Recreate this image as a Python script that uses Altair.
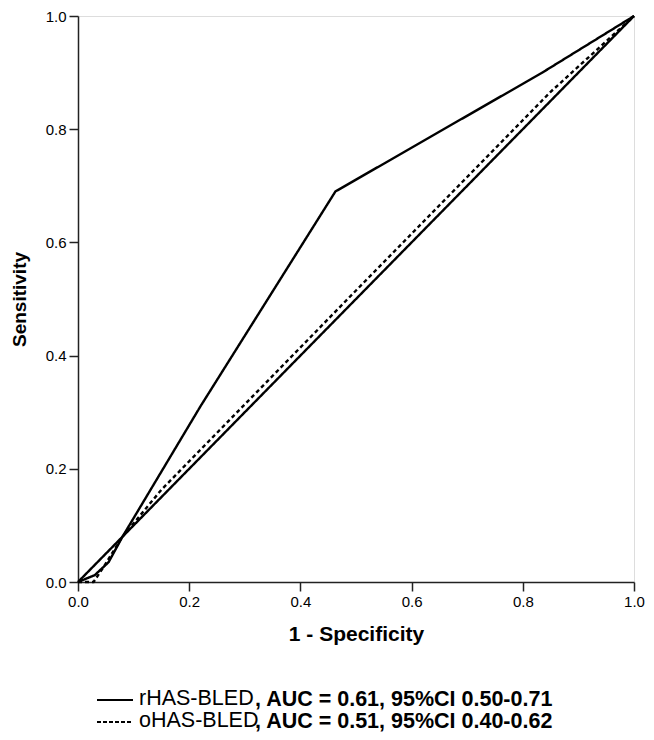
import altair as alt
import pandas as pd

# rHAS-BLED ROC curve (1 - specificity, sensitivity)
r_fpr = [0.0, 0.03, 0.055, 0.08, 0.22, 0.463, 0.835, 1.0]
r_tpr = [0.0, 0.012, 0.035, 0.08, 0.31, 0.69, 0.90, 1.0]

# oHAS-BLED ROC curve
o_fpr = [0.0, 0.028, 0.045, 0.08, 0.15, 0.50, 0.85, 1.0]
o_tpr = [0.0, 0.0, 0.025, 0.08, 0.163, 0.515, 0.866, 1.0]

# reference diagonal
d_fpr = [0.0, 1.0]
d_tpr = [0.0, 1.0]

ticks = [0.0, 0.2, 0.4, 0.6, 0.8, 1.0]

legend_names = ["rHAS-BLED", "oHAS-BLED"]
legend_stats = [", AUC = 0.61, 95%CI 0.50-0.71", ", AUC = 0.51, 95%CI 0.40-0.62"]

rows = []
for name, xs, ys in [("rHAS-BLED", r_fpr, r_tpr), ("oHAS-BLED", o_fpr, o_tpr), ("Reference", d_fpr, d_tpr)]:
    for i, (a, b) in enumerate(zip(xs, ys)):
        rows.append({"series": name, "fpr": a, "tpr": b, "i": i})
df = pd.DataFrame(rows)

W, H = 556, 566
FONT = "Liberation Sans"

common_axis = dict(values=ticks, format=".1f", grid=False, tickSize=9, labelPadding=3,
                   labelFontSize=15, titleFontWeight="bold",
                   labelFont=FONT, titleFont=FONT, labelColor="#000", titleColor="#000",
                   domainColor="#222", tickColor="#222", domainWidth=1.5, tickWidth=1.5,
                   labelFlush=False)

x_enc = alt.X("fpr:Q", scale=alt.Scale(domain=[0, 1], nice=False),
              axis=alt.Axis(title="1 - Specificity", titleFontSize=21, titlePadding=14, **common_axis))
y_enc = alt.Y("tpr:Q", scale=alt.Scale(domain=[0, 1], nice=False),
              axis=alt.Axis(title="Sensitivity", titleFontSize=19, titlePadding=16, **common_axis))

lines = alt.Chart(df).mark_line(color="black", strokeWidth=2.4).encode(
    x=x_enc,
    y=y_enc,
    detail="series:N",
    order="i:Q",
    strokeDash=alt.StrokeDash("series:N",
                              scale=alt.Scale(domain=["rHAS-BLED", "oHAS-BLED", "Reference"],
                                              range=[[1, 0], [4, 3], [1, 0]]),
                              legend=None),
)

leg_df = pd.DataFrame({"name": legend_names, "stat": legend_stats, "row": [0, 1]})

row_y = [684, 706]
FS = 21.5

leg1_line = alt.Chart(pd.DataFrame({"a": [0]})).mark_rule(color="black", strokeWidth=2).encode(
    x=alt.value(19), x2=alt.value(55), y=alt.value(row_y[0]))
leg2_line = alt.Chart(pd.DataFrame({"a": [0]})).mark_rule(color="black", strokeWidth=2, strokeDash=[4, 2]).encode(
    x=alt.value(19), x2=alt.value(55), y=alt.value(row_y[1]))

name1 = alt.Chart(leg_df.iloc[[0]]).mark_text(align="left", baseline="middle", font=FONT, fontSize=FS, color="black").encode(
    x=alt.value(61), y=alt.value(row_y[0] - 1), text="name:N")
name2 = alt.Chart(leg_df.iloc[[1]]).mark_text(align="left", baseline="middle", font=FONT, fontSize=FS, color="black").encode(
    x=alt.value(61), y=alt.value(row_y[1] - 1), text="name:N")
stat1 = alt.Chart(leg_df.iloc[[0]]).mark_text(align="left", baseline="middle", font=FONT, fontSize=FS, fontWeight="bold", color="black").encode(
    x=alt.value(177), y=alt.value(row_y[0]), text="stat:N")
stat2 = alt.Chart(leg_df.iloc[[1]]).mark_text(align="left", baseline="middle", font=FONT, fontSize=FS, fontWeight="bold", color="black").encode(
    x=alt.value(177), y=alt.value(row_y[1]), text="stat:N")

chart = alt.layer(lines, leg1_line, leg2_line, name1, name2, stat1, stat2).properties(
    width=W, height=H,
    autosize=alt.AutoSizeParams(type="none"),
    padding={"left": 70, "top": 8, "right": 12, "bottom": 150},
).configure_view(stroke="#222", strokeWidth=1.5).configure(background="white")

chart.save("out.html", embed_options={"renderer": "svg", "actions": False})
